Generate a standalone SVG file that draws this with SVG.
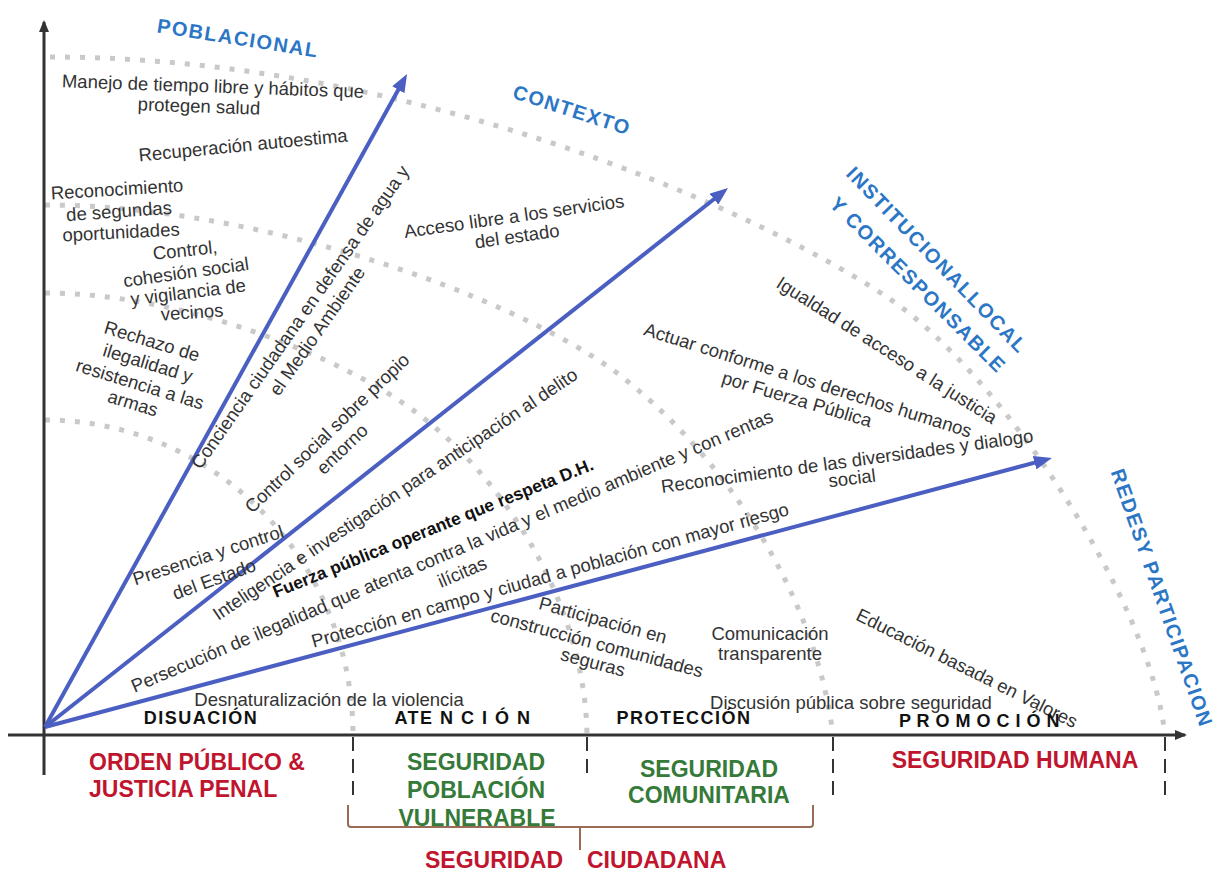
<svg xmlns="http://www.w3.org/2000/svg" width="1217" height="873" viewBox="0 0 1217 873">
<style>
.t{font-family:"Liberation Sans",Arial,sans-serif;font-size:18.5px;fill:#333;text-anchor:middle;dominant-baseline:central}
.tb{font-family:"Liberation Sans",Arial,sans-serif;font-size:17.5px;font-weight:bold;fill:#111;text-anchor:middle;dominant-baseline:central}
.lbl{font-family:"Liberation Sans",Arial,sans-serif;font-size:20px;font-weight:bold;fill:#2b76c5;text-anchor:middle;dominant-baseline:central;letter-spacing:1.5px}
.cat{font-family:"Liberation Sans",Arial,sans-serif;font-size:18px;font-weight:bold;fill:#111;text-anchor:middle;letter-spacing:1.5px}
.red{font-family:"Liberation Sans",Arial,sans-serif;font-size:23px;font-weight:bold;fill:#c0152f}
.grn{font-family:"Liberation Sans",Arial,sans-serif;font-size:23px;font-weight:bold;fill:#357a38;text-anchor:middle}
.dot{fill:none;stroke:#c9c9c9;stroke-width:5;stroke-dasharray:5 10}
.arr{stroke:#4a5fc1;stroke-width:4;fill:none;marker-end:url(#ab)}
.tick{stroke:#333;stroke-width:2;stroke-dasharray:14 8}
</style>
<defs>
<marker id="ab" viewBox="0 0 18 14" markerWidth="18" markerHeight="14" refX="8" refY="7" orient="auto" markerUnits="userSpaceOnUse"><path d="M0,0 L18,7 L0,14 z" fill="#4a5fc1"/></marker>
<marker id="ak" viewBox="0 0 12 10" markerWidth="12" markerHeight="10" refX="10" refY="5" orient="auto" markerUnits="userSpaceOnUse"><path d="M0,0 L12,5 L0,10 z" fill="#333"/></marker>
</defs>
<rect width="1217" height="873" fill="#fff"/>

<g id="arcs">
<path class="dot" d="M50,57 C400,57 740,200 887,297 C1000,372 1150,600 1165,735"/>
<path class="dot" d="M45,205 C250,205 500,290 613,370 C720,450 815,590 833,735"/>
<path class="dot" d="M45,293 C180,293 340,355 417,413 C500,475 585,600 587,735"/>
<path class="dot" d="M45,420 A308,315 0 0 1 353,735"/>
</g>

<g id="axes">
<line x1="8" y1="735" x2="1185" y2="735" stroke="#333" stroke-width="3" marker-end="url(#ak)"/>
<line x1="44" y1="775" x2="44" y2="22" stroke="#333" stroke-width="3" marker-end="url(#ak)"/>
<line class="tick" x1="353" y1="737" x2="353" y2="800"/>
<line class="tick" x1="587" y1="737" x2="587" y2="778"/>
<line class="tick" x1="833" y1="737" x2="833" y2="796"/>
<line class="tick" x1="1165" y1="737" x2="1165" y2="796"/>
</g>

<g id="connectors">
<line class="arr" x1="45" y1="727" x2="402.2" y2="82.75"/>
<line class="arr" x1="45" y1="727" x2="720.2" y2="194.2"/>
<line class="arr" x1="45" y1="727" x2="1042.3" y2="460.6"/>
</g>

<g id="labels">
<text class="lbl" transform="translate(238,38) rotate(9)">POBLACIONAL</text>
<text class="lbl" transform="translate(572,110) rotate(18)">CONTEXTO</text>
<text class="lbl" transform="translate(937,260) rotate(46)">INSTITUCIONALLOCAL</text>
<text class="lbl" transform="translate(918,285) rotate(45)">Y CORRESPONSABLE</text>
<text class="lbl" transform="translate(1162,598) rotate(70.7)">REDESY PARTICIPACION</text>
</g>

<g id="items">
<text class="t" transform="translate(213,86) rotate(2)">Manejo de tiempo libre y hábitos que</text>
<text class="t" transform="translate(199,106) rotate(2)">protegen salud</text>
<text class="t" transform="translate(243,145) rotate(-5.5)">Recuperación autoestima</text>
<text class="t" transform="translate(117,189) rotate(-3.5)">Reconocimiento</text>
<text class="t" transform="translate(119,211) rotate(-4)">de segundas</text>
<text class="t" transform="translate(121,232) rotate(-3)">oportunidades</text>
<text class="t" transform="translate(185,250) rotate(-6)">Control,</text>
<text class="t" transform="translate(186,272) rotate(-8)">cohesión social</text>
<text class="t" transform="translate(188,292) rotate(-7)">y vigilancia de</text>
<text class="t" transform="translate(192,312) rotate(-4)">vecinos</text>
<text class="t" transform="translate(152,341) rotate(17)">Rechazo de</text>
<text class="t" transform="translate(148,363) rotate(17)">ilegalidad y</text>
<text class="t" transform="translate(140,384) rotate(17)">resistencia a las</text>
<text class="t" transform="translate(133,403) rotate(17)">armas</text>
<text class="t" transform="translate(300,317) rotate(-55)">Conciencia ciudadana en defensa de agua y</text>
<text class="t" transform="translate(317,331) rotate(-55)">el Medio Ambiente</text>
<text class="t" transform="translate(327,433) rotate(-44)">Control social sobre propio</text>
<text class="t" transform="translate(342,449) rotate(-44)">entorno</text>
<text class="t" transform="translate(514,216) rotate(-8)">Acceso libre a los servicios</text>
<text class="t" transform="translate(517,236) rotate(-8)">del estado</text>
<text class="t" transform="translate(887,350) rotate(32.5)">Igualdad de acceso a la justicia</text>
<text class="t" transform="translate(808,380) rotate(17.5)">Actuar conforme a los derechos humanos</text>
<text class="t" transform="translate(797,399) rotate(16.5)">por Fuerza Pública</text>
<text class="t" transform="translate(847,461) rotate(-7.8)">Reconocimiento de las diversidades y dialogo</text>
<text class="t" transform="translate(852,478) rotate(-7)">social</text>
<text class="t" transform="translate(395,494) rotate(-34)">Inteligencia e investigación para anticipación al delito</text>
<text class="tb" transform="translate(433,528) rotate(-22)">Fuerza pública operante que respeta D.H.</text>
<text class="t" transform="translate(452,551) rotate(-23)">Persecución de ilegalidad que atenta contra la vida y el medio ambiente y con rentas</text>
<text class="t" transform="translate(462,572) rotate(-23)">ilícitas</text>
<text class="t" transform="translate(208,555) rotate(-18)">Presencia y control</text>
<text class="t" transform="translate(214,579) rotate(-20)">del Estado</text>
<text class="t" transform="translate(550,575) rotate(-15.6)">Protección en campo y ciudad a población con mayor riesgo</text>
<text class="t" transform="translate(329,699)">Desnaturalización de la violencia</text>
<text class="t" transform="translate(603,620) rotate(15.4)">Participación en</text>
<text class="t" transform="translate(597,643) rotate(15)">construcción comunidades</text>
<text class="t" transform="translate(593,662) rotate(15)">seguras</text>
<text class="t" transform="translate(770,633)">Comunicación</text>
<text class="t" transform="translate(770,653)">transparente</text>
<text class="t" transform="translate(851,702)">Discusión pública sobre seguridad</text>
<text class="t" transform="translate(967,668) rotate(26.5)">Educación basada en Valores</text>
</g>

<g id="categories">
<text class="cat" x="201" y="724">DISUACIÓN</text>
<text class="cat" x="463" y="724">ATE N C I Ó N</text>
<text class="cat" x="684" y="724">PROTECCIÓN</text>
<text class="cat" x="980" y="727" style="word-spacing:-2px">P R O M O C I Ó N</text>
</g>

<g id="security">
<text class="red" x="89" y="770">ORDEN PÚBLICO &amp;</text>
<text class="red" x="89" y="797">JUSTICIA PENAL</text>
<text class="grn" x="476" y="770">SEGURIDAD</text>
<text class="grn" x="476" y="798">POBLACIÓN</text>
<text class="grn" x="477" y="826">VULNERABLE</text>
<text class="grn" x="709" y="777">SEGURIDAD</text>
<text class="grn" x="709" y="803">COMUNITARIA</text>
<text class="red" x="1015" y="768" text-anchor="middle">SEGURIDAD HUMANA</text>
<text class="red" y="868"><tspan x="425">SEGURIDAD</tspan><tspan x="587">CIUDADANA</tspan></text>
<path d="M348,805 V824 Q348,827 351,827 H810 Q813,827 813,824 V805 M580,827 V850" fill="none" stroke="#9a6b55" stroke-width="2"/>
</g>
</svg>
